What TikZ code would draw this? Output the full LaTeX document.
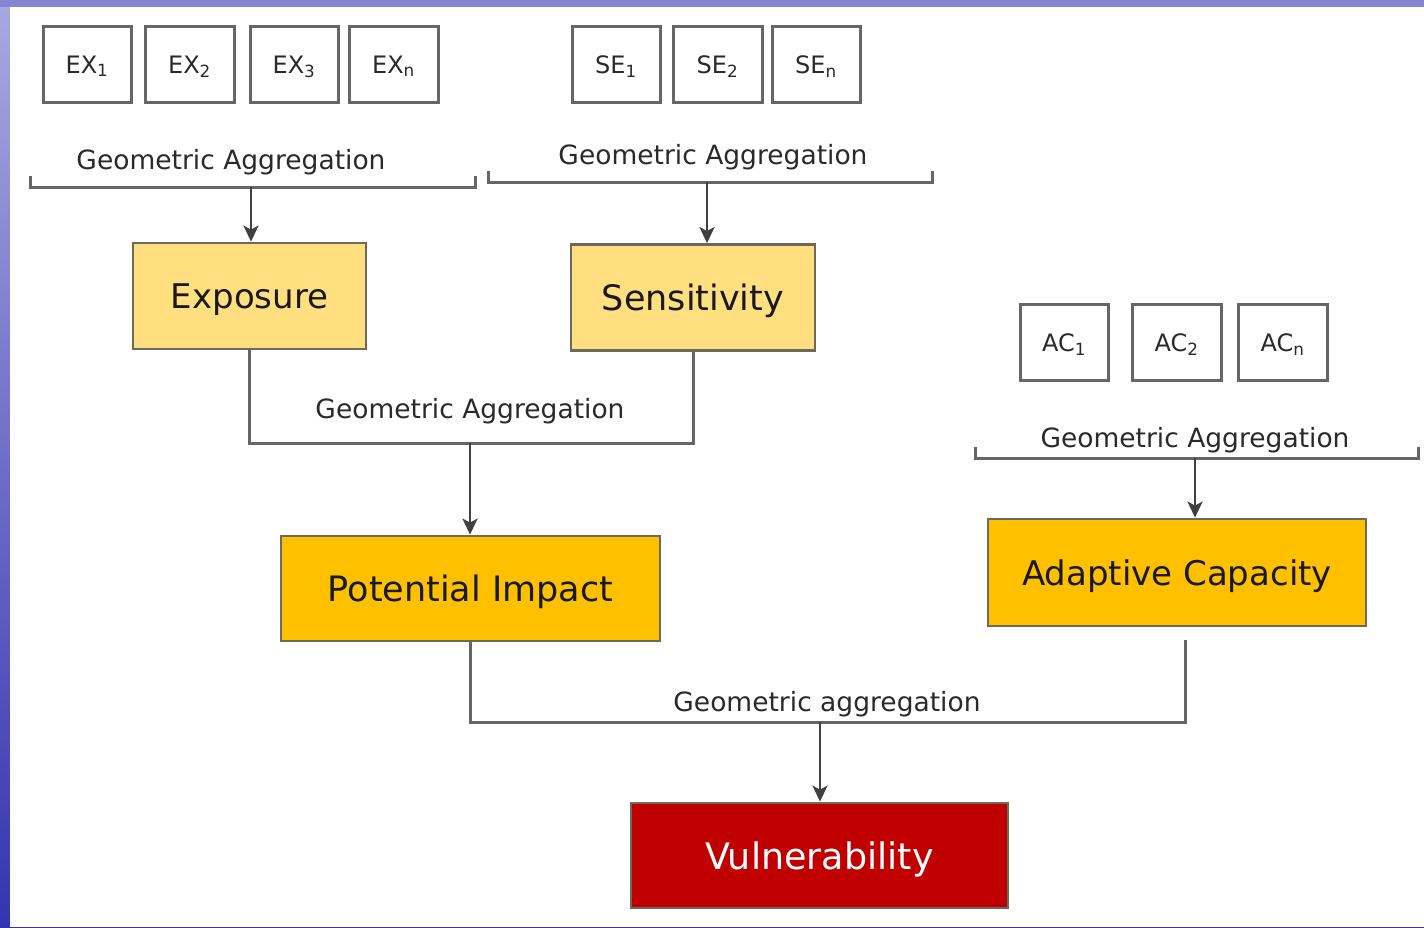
\documentclass[tikz,border=0pt]{standalone}
\usepackage{fontspec}
\setmainfont{DejaVu Sans}
\usetikzlibrary{arrows.meta,calc}
\definecolor{lightyel}{HTML}{FFDF7F}
\definecolor{gold}{HTML}{FFC000}
\definecolor{redbox}{HTML}{C00000}
\definecolor{lncol}{HTML}{666666}
\definecolor{bordcol}{HTML}{6E6A5A}
\definecolor{txtcol}{HTML}{2A2A2A}
\definecolor{bgtop}{HTML}{A8A8E0}
\definecolor{bgbot}{HTML}{3434B0}
\tikzset{
  smallbox/.style={draw=lncol,line width=3pt,fill=white,minimum width=88pt,minimum height=76pt,inner sep=0pt,text depth=0pt,font=\fontsize{24}{26}\selectfont,text=txtcol},
  bigbox/.style={draw=bordcol,line width=2.8pt,minimum height=106pt,inner sep=0pt,text depth=0pt,font=\fontsize{35}{38}\selectfont,text=black!90},
  aggtext/.style={font=\fontsize{26.5}{28}\selectfont,text=txtcol,inner sep=0pt,text depth=0pt},
  ln/.style={draw=lncol,line width=3pt},
  arr/.style={draw=black!75,line width=2.8pt,-{Stealth[length=16pt,width=15pt,inset=4pt]}},
}
\begin{document}
\begin{tikzpicture}[x=1pt,y=-1pt]
\useasboundingbox (0,0) rectangle (1424,927);
\shade[top color=bgtop,bottom color=bgbot] (0,0) rectangle (1424,927);
\fill[color=bgtop!70!bgbot] (0,0) rectangle (1424,7);
\fill[white] (10,7) rectangle (1424,927);

% exposure indicators
\node[smallbox,minimum width=88pt] (ex1) at (87,64.5) {EX\textsubscript{1}};
\node[smallbox,minimum width=89pt] (ex2) at (189.5,64.5) {EX\textsubscript{2}};
\node[smallbox,minimum width=88pt] (ex3) at (294,64.5) {EX\textsubscript{3}};
\node[smallbox,minimum width=89pt] (exn) at (393.5,64.5) {EX\textsubscript{n}};
% sensitivity indicators
\node[smallbox] (se1) at (616,64.5) {SE\textsubscript{1}};
\node[smallbox,minimum width=89pt] (se2) at (717.5,64.5) {SE\textsubscript{2}};
\node[smallbox] (sen) at (816,64.5) {SE\textsubscript{n}};
% adaptive capacity indicators
\node[smallbox] (ac1) at (1064,342.5) {AC\textsubscript{1}};
\node[smallbox,minimum width=89pt] (ac2) at (1176.5,342.5) {AC\textsubscript{2}};
\node[smallbox,minimum width=89pt] (acn) at (1282.5,342.5) {AC\textsubscript{n}};

% main boxes
\node[bigbox,fill=lightyel,minimum width=233pt,font=\fontsize{34}{38}\selectfont] (expo) at (249.5,296) {Exposure};
\node[bigbox,fill=lightyel,minimum width=244pt] (sens) at (693,297.5) {Sensitivity};
\node[bigbox,fill=gold,minimum width=379pt,minimum height=105pt] (pi) at (470.5,588.5) {Potential Impact};
\node[bigbox,fill=gold,minimum width=378pt,minimum height=107pt,font=\fontsize{34}{38}\selectfont] (ac) at (1177,572.5) {Adaptive Capacity};
\node[bigbox,fill=redbox,minimum width=377pt,minimum height=105pt,text=white,font=\fontsize{36.5}{40}\selectfont] (vul) at (819.5,855.5) {Vulnerability};

% aggregation labels
\node[aggtext] (g1) at (231,159) {Geometric Aggregation};
\node[aggtext] (g2) at (713,154) {Geometric Aggregation};
\node[aggtext] (g3) at (470,408) {Geometric Aggregation};
\node[aggtext] (g4) at (1195,437) {Geometric Aggregation};
\node[aggtext] (g5) at (827,701) {Geometric aggregation};

% brackets
\coordinate (b1l) at (30,176);
\coordinate (b1r) at (475,176);
\coordinate (b1) at (251,187);
\draw[ln] (b1l) -- ++(0,11) -- ($(b1r)+(0,11)$) -- (b1r);
\draw[arr] (b1) -- (b1 |- expo.north);

\coordinate (b2l) at (488,171);
\coordinate (b2r) at (932,171);
\coordinate (b2) at (707,182);
\draw[ln] (b2l) -- ++(0,11) -- ($(b2r)+(0,11)$) -- (b2r);
\draw[arr] (b2) -- (b2 |- sens.north);

\coordinate (b3l) at (975,447);
\coordinate (b3r) at (1418,447);
\coordinate (b3) at (1195,458);
\draw[ln] (b3l) -- ++(0,11) -- ($(b3r)+(0,11)$) -- (b3r);
\draw[arr] (b3) -- (b3 |- ac.north);

% exposure + sensitivity -> potential impact
\coordinate (j1) at (470,443);
\draw[ln] (expo.south) |- (j1) -| (sens.south);
\draw[arr] (j1) -- (j1 |- pi.north);

% potential impact + adaptive capacity -> vulnerability
\coordinate (j2) at (820,722);
\coordinate (acb) at (1185,640);
\draw[ln] (pi.south) |- (j2) -| (acb);
\draw[arr] (j2) -- (j2 |- vul.north);
\end{tikzpicture}
\end{document}
